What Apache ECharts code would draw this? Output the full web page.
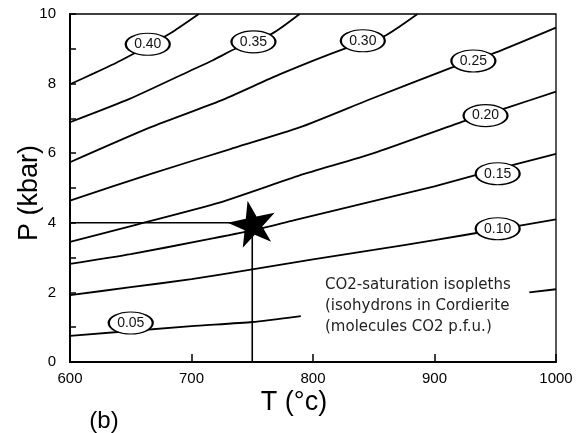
<!DOCTYPE html>
<html>
<head>
<meta charset="utf-8">
<script src="https://cdn.jsdelivr.net/npm/echarts@6/dist/echarts.min.js"></script>
<style>
html,body{margin:0;padding:0;background:#fff;}
#chart{width:579px;height:433px;}
</style>
</head>
<body>
<div id="chart"></div>
<script>
// Isopleths [T (°C), P (kbar)]
var iso040 = [[600,7.98],[620,8.3],[641,8.65],[664,9.08],[685,9.5],[706,10]];
var iso035 = [[600,6.89],[649,7.56],[699,8.37],[718,8.68],[736,9.0],[767,9.45],[789,10]];
var iso030 = [[600,5.74],[666,6.74],[724,7.51],[773,8.27],[825,8.99],[858,9.35],[886,10]];
var iso025 = [[600,4.64],[666,5.40],[732,6.12],[789,6.74],[847,7.55],[914,8.46],[950,8.89],[1000,9.61]];
var iso020 = [[600,3.45],[655,3.95],[723,4.58],[789,5.36],[850,6.0],[925,6.93],[960,7.31],[1000,7.77]];
var iso015 = [[600,2.82],[650,3.1],[710,3.5],[750,3.78],[784,4.07],[847,4.6],[900,5.05],[933,5.36],[968,5.69],[1000,5.98]];
var iso010 = [[600,1.92],[650,2.15],[700,2.38],[750,2.66],[800,2.95],[850,3.22],[900,3.5],[950,3.8],[1000,4.1]];
var iso005a = [[600,0.75],[700,1.03],[750,1.15],[790,1.32]];
var iso005b = [[978,2.0],[1000,2.09]];

// Isopleth labels
var labelText = ['0.40','0.35','0.30','0.25','0.20','0.15','0.10','0.05'];
var labelT = [664, 751, 841, 932, 942, 952, 952, 650];
var labelP = [9.13, 9.2, 9.23, 8.65, 7.08, 5.41, 3.83, 1.12];

// Star point and guide lines
var starT = 750, starP = 4;
var guideH = [[600,4],[750,4]];
var guideV = [[750,0],[750,4]];

var xTicks = [600,700,800,900,1000];
var yTickLabels = [0,2,4,6,8,10];

var noteLines = ['CO2-saturation isopleths','(isohydrons in Cordierite','(molecules CO2 p.f.u.)'];

var FONT = '"Liberation Sans", Arial, Helvetica, sans-serif';

function lineSeries(d, w) {
  return {type:'line', data:d, showSymbol:false, smooth:0.2, silent:true,
    lineStyle:{color:'#000', width:w||1.8}, z:2};
}

var series = [iso040, iso035, iso030, iso025, iso020, iso015, iso010, iso005a, iso005b].map(function(d){return lineSeries(d);});
series.push(lineSeries(guideH, 1.6));
series.push(lineSeries(guideV, 1.6));
series.push({
  type:'scatter', z:5, silent:true,
  symbol:'path://M0,11A22,11,0,1,1,44,11A22,11,0,1,1,0,11Z',
  symbolSize:[44,22],
  itemStyle:{color:'#fff', borderColor:'#000', borderWidth:1.6, opacity:1},
  label:{show:true, position:'inside', formatter:function(p){return p.name;}, color:'#111', fontSize:14, fontFamily:FONT},
  data: labelText.map(function(t,i){return {name:t, value:[labelT[i], labelP[i]]};})
});
series.push({
  type:'scatter', z:6, silent:true,
  symbol:'path://M50,0L61,35L98,35L68,57L79,91L50,70L21,91L32,57L2,35L39,35Z',
  symbolSize:[48,45], symbolRotate:12,
  itemStyle:{color:'#000', opacity:1},
  data:[[starT, starP]]
});

var chart = echarts.init(document.getElementById('chart'), null, {renderer:'canvas'});
chart.setOption({
  animation:false,
  backgroundColor:'#fff',
  grid:{left:70, right:23, top:14, bottom:71, show:true, borderColor:'#000', borderWidth:1.3,
    backgroundColor:'transparent', containLabel:false, outerBoundsMode:'none'},
  xAxis:{
    type:'value', min:xTicks[0], max:xTicks[xTicks.length-1], interval:100,
    name:'T (°c)', nameLocation:'middle', nameGap:27, nameMoveOverlap:false,
    nameTextStyle:{fontSize:27, color:'#000', fontFamily:FONT, padding:[0,38,0,0]},
    axisLine:{lineStyle:{color:'#000', width:2}},
    axisTick:{inside:true, length:8, lineStyle:{color:'#000', width:1.5}},
    axisLabel:{fontSize:15, color:'#000', margin:9, fontFamily:FONT,
      formatter:function(v){return String(v);}},
    splitLine:{show:false}
  },
  yAxis:{
    type:'value', min:0, max:10, interval:1,
    name:'P (kbar)', nameLocation:'middle', nameGap:27, nameMoveOverlap:false,
    nameTextStyle:{fontSize:27, color:'#000', fontFamily:FONT, padding:[0,10,0,0]},
    axisLine:{lineStyle:{color:'#000', width:2}},
    axisTick:{inside:true, length:6, lineStyle:{color:'#000', width:1.5}},
    axisLabel:{fontSize:15, color:'#000', margin:14, fontFamily:FONT,
      formatter:function(v){return yTickLabels.indexOf(v) >= 0 ? String(v) : '';}},
    splitLine:{show:false}
  },
  graphic:[
    {type:'text', left:325, top:275, z:10, silent:true,
      style:{text:noteLines.join('\n'), font:'15px "DejaVu Sans", sans-serif', fill:'#222', lineHeight:21}},
    {type:'text', x:104, y:421, z:10, silent:true,
      style:{text:'(b)', font:'24px ' + FONT, fill:'#000', align:'center', verticalAlign:'middle'}}
  ],
  series:series
});
</script>
</body>
</html>
